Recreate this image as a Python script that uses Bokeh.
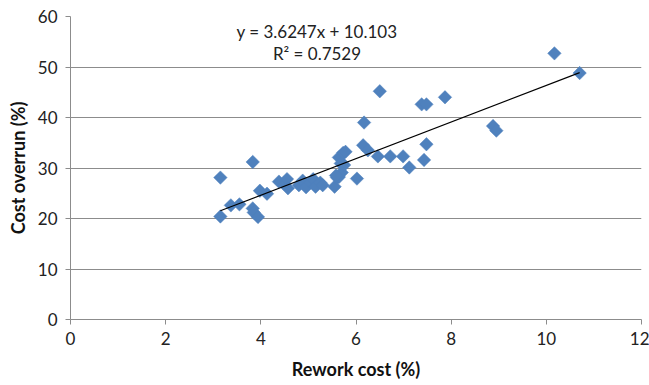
import numpy as np
from bokeh.plotting import figure
from bokeh.models import Range1d, FixedTicker, Label
from bokeh.embed import file_html
from bokeh.resources import INLINE

rework_cost = [3.15, 3.15, 3.37, 3.55, 3.83, 3.83, 3.85, 3.94, 3.98, 4.13,
               4.38, 4.50, 4.55, 4.57, 4.80, 4.88, 4.95, 5.05, 5.10, 5.15,
               5.25, 5.30, 5.55, 5.60, 5.64, 5.70, 5.64, 5.73, 5.78, 5.75,
               6.02, 6.17, 6.15, 6.25, 6.46, 6.50, 6.72, 6.99, 7.12, 7.38,
               7.48, 7.43, 7.48, 7.87, 8.88, 8.95, 10.17, 10.70, 5.68, 5.58]
cost_overrun = [28.1, 20.4, 22.6, 22.8, 31.2, 22.0, 21.2, 20.3, 25.5, 24.9,
                27.3, 26.8, 27.8, 26.0, 26.6, 27.5, 26.2, 27.1, 27.8, 26.3,
                27.1, 26.6, 26.3, 28.1, 28.2, 29.1, 32.1, 33.0, 33.2, 30.6,
                27.9, 39.0, 34.5, 33.5, 32.3, 45.2, 32.3, 32.3, 30.1, 42.6,
                42.6, 31.6, 34.7, 44.0, 38.3, 37.4, 52.7, 48.8, 30.9, 28.5]
slope = 3.6247
intercept = 10.103
eq_text = "y = 3.6247x + 10.103"
r2_text = "R² = 0.7529"
x_ticks = [0, 2, 4, 6, 8, 10, 12]
y_ticks = [0, 10, 20, 30, 40, 50, 60]

FONT = "Lato"

p = figure(width=649, height=385, output_backend="svg", toolbar_location=None,
           x_range=Range1d(0, 12), y_range=Range1d(0, 60),
           min_border_left=70, min_border_right=8, min_border_top=16, min_border_bottom=66)
p.outline_line_color = None
p.background_fill_color = "white"
p.border_fill_color = "white"

p.xgrid.grid_line_color = None
p.ygrid.grid_line_color = "#8c8c8c"
p.ygrid.grid_line_width = 1
p.ygrid.ticker = FixedTicker(ticks=y_ticks)

for ax in (p.xaxis[0], p.yaxis[0]):
    ax.axis_line_color = "#8c8c8c"
    ax.major_tick_line_color = "#8c8c8c"
    ax.major_tick_out = 5
    ax.major_tick_in = 0
    ax.minor_tick_line_color = None
    ax.major_label_text_font = FONT
    ax.major_label_text_font_size = "17px"
    ax.major_label_text_color = "#222222"
    ax.axis_label_text_font = FONT
    ax.axis_label_text_font_size = "18px"
    ax.axis_label_text_font_style = "bold"
    ax.axis_label_text_color = "#111111"

p.xaxis.ticker = FixedTicker(ticks=x_ticks)
p.yaxis.ticker = FixedTicker(ticks=y_ticks)
p.xaxis.axis_label = "Rework cost (%)"
p.yaxis.axis_label = "Cost overrun (%)"
p.xaxis.major_label_standoff = 7
p.yaxis.major_label_standoff = 8
p.xaxis.axis_label_standoff = 10
p.yaxis.axis_label_standoff = 6

p.scatter(rework_cost, cost_overrun, marker="square", size=9.5, angle=np.pi / 4,
          fill_color="#4F81BD", line_color="#4F81BD", line_width=0.5)

xmin, xmax = min(rework_cost), max(rework_cost)
p.line([xmin, xmax], [slope * xmin + intercept, slope * xmax + intercept],
       line_color="black", line_width=1.1)

p.add_layout(Label(x=5.18, y=57.0, text=eq_text, text_align="center", text_baseline="middle",
                   text_font=FONT, text_font_size="17px", text_color="#222222"))
p.add_layout(Label(x=5.18, y=52.6, text=r2_text, text_align="center", text_baseline="middle",
                   text_font=FONT, text_font_size="17px", text_color="#222222"))

open("out.html", "w").write(file_html(p, INLINE))
